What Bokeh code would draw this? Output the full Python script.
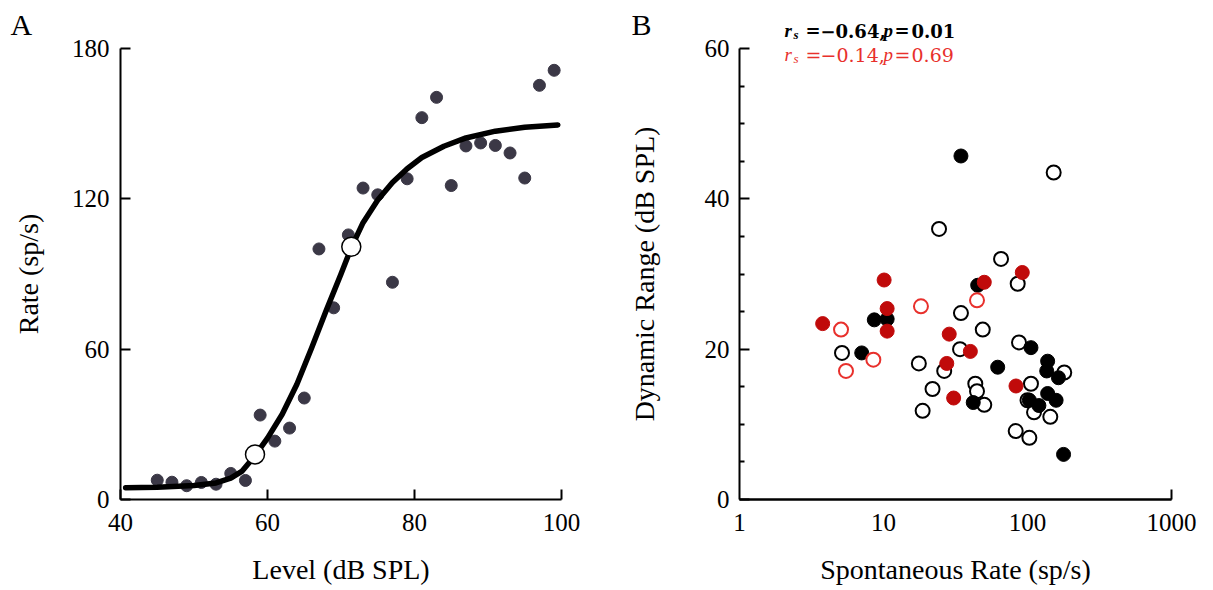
from bokeh.plotting import figure
from bokeh.layouts import row
from bokeh.models import (FixedTicker, PrintfTickFormatter, CustomJSTickFormatter, Label,
                          LinearAxis, LogAxis)
from bokeh.embed import file_html
from bokeh.resources import INLINE

FONT = "Liberation Serif"
NOTE_FONT = "DejaVu Serif"

# ---------------- Panel A data ----------------
level = [45, 47, 49, 51, 53, 55, 57, 59, 61, 63, 65, 67, 69, 71,
         73, 75, 77, 79, 81, 83, 85, 87, 89, 91, 93, 95, 97, 99]
rate = [7.7, 6.9, 5.5, 6.8, 6.1, 10.4, 7.6, 33.7, 23.3, 28.5, 40.5, 100.0, 76.5, 105.6,
        124.3, 121.6, 86.7, 128.0, 152.4, 160.5, 125.3, 141.1, 142.3, 141.3, 138.3, 128.3, 165.3, 171.3]
fit_level = [40.7, 45, 50, 53, 55, 56.5, 58.3, 60, 62, 64, 66, 68, 70, 71.4,
             73, 75, 77, 79, 81, 84, 87, 91, 95, 99.5]
fit_rate = [4.7, 4.9, 5.6, 6.6, 8.5, 11.2, 17.5, 24.5, 34, 46, 60.5, 75.5, 90, 100.5,
            110.5, 119.5, 126.5, 132, 136.5, 141, 144.3, 147, 148.6, 149.5]
key_level = [58.3, 71.4]
key_rate = [18.0, 100.9]

# ---------------- Panel B data ----------------
bf_sr = [34.5, 45.1, 8.63, 10.6, 7.06, 105.7, 62.1, 138, 136, 164, 138, 42.0, 103, 120, 158, 178]
bf_dr = [45.7, 28.5, 23.9, 24.0, 19.5, 20.2, 17.6, 18.4, 17.1, 16.2, 14.1, 12.9, 13.2, 12.5, 13.2, 6.0]
bo_sr = [152, 24.3, 65.5, 85.5, 34.5, 48.9, 87.3, 34.0, 5.15, 17.6, 26.4, 180, 21.9, 43.4, 44.6,
         105.7, 50.1, 100, 111, 144, 18.7, 82.8, 103]
bo_dr = [43.5, 36.0, 32.0, 28.7, 24.8, 22.6, 20.9, 20.0, 19.5, 18.1, 17.1, 16.9, 14.7, 15.4, 14.4,
         15.4, 12.6, 13.2, 11.6, 11.0, 11.8, 9.1, 8.2]
rf_sr = [92, 10.1, 50.1, 10.6, 10.6, 3.78, 28.6, 27.5, 40.1, 83.2, 30.7]
rf_dr = [30.2, 29.2, 28.9, 25.4, 22.4, 23.4, 22.0, 18.1, 19.7, 15.1, 13.5]
ro_sr = [44.6, 18.2, 5.07, 8.5, 5.49]
ro_dr = [26.5, 25.7, 22.6, 18.6, 17.1]

a_xlim = (40, 100)
a_ylim = (0, 180)
a_xticks = [40, 60, 80, 100]
a_yticks = [0, 60, 120, 180]
b_xlim = (1, 1000)
b_ylim = (0, 60)
b_xticks = [1, 10, 100, 1000]
b_xtick_marks = [1000]
b_yticks = [0, 20, 40, 60]
b_yminor = [5, 10, 15, 25, 30, 35, 45, 50, 55]

# ---------------- layout geometry (pixels in the 1213x590 page) ----------------
H = 590
FT, FB = 48, 499                      # top / bottom of the axes box
A_OFF, A_L, A_R, A_W = 0, 120, 561, 600
B_OFF, B_L, B_R, B_W = 600, 739, 1171, 613

a_xs = (A_R - A_L) / (a_xlim[1] - a_xlim[0])
a_ys = (FB - FT) / (a_ylim[1] - a_ylim[0])
a_xr = (a_xlim[0] - (A_L - A_OFF) / a_xs, a_xlim[1] + (A_OFF + A_W - A_R) / a_xs)
a_yr = (a_ylim[0] - (H - FB) / a_ys, a_ylim[1] + FT / a_ys)

b_dec = (B_R - B_L) / 3.0
b_ys = (FB - FT) / (b_ylim[1] - b_ylim[0])
b_xr = (b_xlim[0] * 10 ** (-(B_L - B_OFF) / b_dec), b_xlim[1] * 10 ** ((B_OFF + B_W - B_R) / b_dec))
b_yr = (b_ylim[0] - (H - FB) / b_ys, b_ylim[1] + FT / b_ys)


def style_axis(ax, label_standoff, tick_standoff):
    ax.axis_line_width = 2
    ax.axis_line_color = "black"
    ax.major_tick_line_width = 2
    ax.major_tick_line_color = "black"
    ax.major_tick_in = 10
    ax.major_tick_out = 0
    ax.minor_tick_line_width = 2
    ax.minor_tick_line_color = "black"
    ax.minor_tick_in = 5
    ax.minor_tick_out = 0
    ax.major_label_text_font = FONT
    ax.major_label_text_font_size = "25px"
    ax.major_label_text_color = "black"
    ax.major_label_standoff = tick_standoff
    ax.axis_label_text_font = FONT
    ax.axis_label_text_font_size = "28px"
    ax.axis_label_text_font_style = "normal"
    ax.axis_label_text_color = "black"
    ax.axis_label_standoff = label_standoff


def base_fig(width, xr, yr, xtype):
    p = figure(width=width, height=H, x_range=xr, y_range=yr, x_axis_type=xtype,
               x_axis_location=None, y_axis_location=None, title=None,
               output_backend="svg", toolbar_location=None,
               min_border=0, min_border_left=0, min_border_right=0,
               min_border_top=0, min_border_bottom=0)
    p.grid.visible = False
    p.outline_line_color = None
    p.background_fill_color = "white"
    p.border_fill_color = "white"
    return p


LIFT = 11  # baseline correction


def screen_label(p, off, px, py, text, size, color, font=FONT, style="normal"):
    p.add_layout(Label(x=px - off, y=H - py + LIFT, x_units="screen", y_units="screen",
                       text=text, text_font=font, text_font_size=f"{size}px",
                       text_font_style=style, text_color=color,
                       text_baseline="alphabetic", text_align="left"))


# ---------------- Panel A ----------------
pA = base_fig(A_W, a_xr, a_yr, "linear")
ax_a = LinearAxis(fixed_location=a_ylim[0], bounds=a_xlim, axis_label="Level (dB SPL)",
                  ticker=FixedTicker(ticks=a_xticks, minor_ticks=[]))
ay_a = LinearAxis(fixed_location=a_xlim[0], bounds=a_ylim, axis_label="Rate (sp/s)",
                  ticker=FixedTicker(ticks=a_yticks, minor_ticks=[]))
style_axis(ax_a, 20, 14)
style_axis(ay_a, 25, 11)
pA.add_layout(ax_a, "below")
pA.add_layout(ay_a, "left")

pA.scatter(level, rate, size=12, fill_color="#3b3846", line_color="#3b3846")
pA.line(fit_level, fit_rate, line_width=5.5, line_color="black",
        line_cap="round", line_join="round")
pA.scatter(key_level, key_rate, size=19, fill_color="white", line_color="black", line_width=1.5)

screen_label(pA, A_OFF, 10, 35, "A", 30, "black")

# ---------------- Panel B ----------------
pB = base_fig(B_W, b_xr, b_yr, "log")
ax_b = LogAxis(fixed_location=b_ylim[0], bounds=b_xlim, axis_label="Spontaneous Rate (sp/s)",
               ticker=FixedTicker(ticks=b_xticks, minor_ticks=[]),
               formatter=PrintfTickFormatter(format="%d"))
style_axis(ax_b, 20, 14)
ax_b.major_tick_in = 0
# tick mark only at the right end of the log axis
ax_b_marks = LogAxis(fixed_location=b_ylim[0], bounds=b_xlim,
                     ticker=FixedTicker(ticks=b_xtick_marks, minor_ticks=[]),
                     formatter=CustomJSTickFormatter(code="return ''"))
style_axis(ax_b_marks, 0, 0)
ay_b = LinearAxis(fixed_location=b_xlim[0], bounds=b_ylim, axis_label="Dynamic Range (dB SPL)",
                  ticker=FixedTicker(ticks=b_yticks, minor_ticks=b_yminor))
style_axis(ay_b, 42, 10)
pB.add_layout(ax_b, "below")
pB.add_layout(ax_b_marks, "below")
pB.add_layout(ay_b, "left")

pB.scatter(bo_sr, bo_dr, size=14, fill_color="white", line_color="black", line_width=2)
pB.scatter(bf_sr, bf_dr, size=14, fill_color="black", line_color="black", line_width=1)
pB.scatter(ro_sr, ro_dr, size=14, fill_color="white", line_color="#e8302c", line_width=2)
pB.scatter(rf_sr, rf_dr, size=14, fill_color="#c00a0a", line_color="#c00a0a", line_width=1)

screen_label(pB, B_OFF, 631, 35, "B", 30, "black")

black_note = [(784, 0, "r", 19, "bold italic"), (793, 4, "s", 13, "bold italic"),
              (805, 0, "=", 18, "bold"), (820, 0, "\u22120.64,", 18, "bold"),
              (883, 0, "p", 19, "bold italic"), (894, 0, "=", 18, "bold"),
              (911, 0, "0.01", 18, "bold")]
red_note = [(784, 0, "r", 19, "italic"), (793, 4, "s", 13, "italic"),
            (805, 0, "=", 19, "normal"), (820, 0, "\u22120.14,", 19, "normal"),
            (883, 0, "p", 19, "italic"), (894, 0, "=", 19, "normal"),
            (911, 0, "0.69", 19, "normal")]
for px, dy, txt, sz, st in black_note:
    screen_label(pB, B_OFF, px, 41 + dy, txt, sz, "black",
                 font=FONT if txt in ("r", "s", "p") else NOTE_FONT, style=st)
for px, dy, txt, sz, st in red_note:
    screen_label(pB, B_OFF, px, 65 + dy, txt, sz, "#e8302c",
                 font=FONT if txt in ("r", "s", "p") else NOTE_FONT, style=st)

layout = row(pA, pB)
open("out.html", "w").write(file_html(layout, INLINE))
